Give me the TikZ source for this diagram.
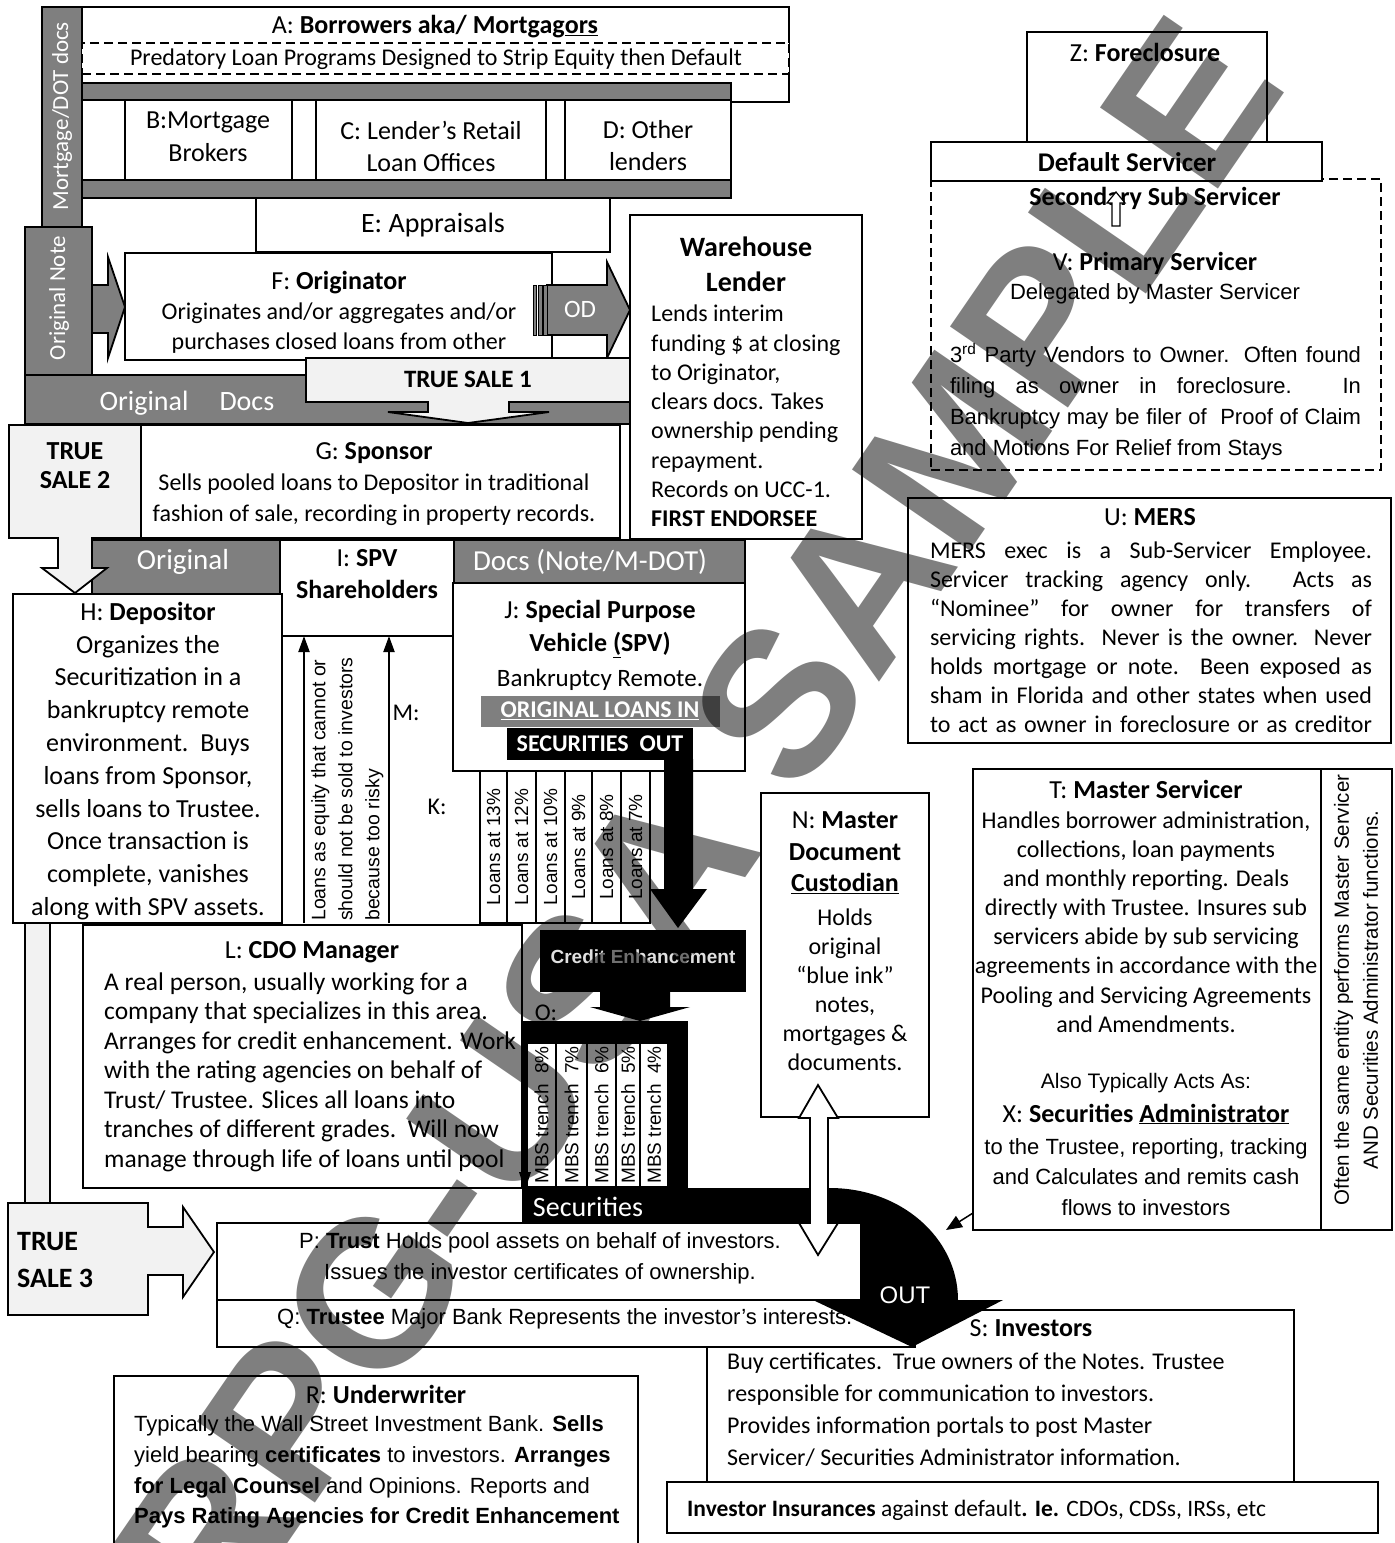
\documentclass[tikz,border=0pt]{standalone}
\usepackage{fontspec}
\setmainfont{Carlito}
\newfontfamily\arial{Liberation Sans}
\usetikzlibrary{arrows.meta}
\setlength{\parindent}{0pt}

\definecolor{bargray}{RGB}{127,127,127}
\definecolor{salegray}{RGB}{242,242,242}

\newcommand{\fsz}[2]{\fontsize{#1}{#2}\selectfont}

\tikzset{
  box/.style={draw, line width=1.8pt, fill=white, anchor=north west,
    inner sep=0pt, outer sep=0pt},
  bar/.style={box, fill=bargray},
  dashbox/.style={box, dash pattern=on 9pt off 5pt, line width=1.6pt},
  blockarrow/.style={draw, line width=1.8pt, line join=miter},
  txt/.style={inner sep=0pt, align=center, font=\fsz{24}{30}},
  wtxt/.style={txt, text=white},
  loancol/.style={draw, line width=1.4pt, fill=white, rotate=90, inner sep=0pt,
    font=\arial\fsz{19}{19}},
  arrowline/.style={-{Triangle[length=16pt, width=11pt]}, line width=2pt},
}

\begin{document}
\begin{tikzpicture}[x=1pt, y=-1pt]
\useasboundingbox (0,0) rectangle (1395,1543);

% borrowers and lenders
\node[bar, minimum width=40pt, minimum height=220pt] (dotbar) at (42,7) {};
\node[wtxt, rotate=90, font=\fsz{23}{23}] (dotbarT) at (62,116) {Mortgage/DOT docs};
\node[box, minimum width=707pt, minimum height=95pt] (borrowers) at (82,7) {};
\node[txt, font=\fsz{26}{30}] (borrowersT) at (435,27) {A: \textbf{Borrowers aka/ Mortgag\underline{ors}}};
\node[dashbox, minimum width=707pt, minimum height=31pt] (predatory) at (82,43) {};
\node[txt] (predatoryT) at (436,59) {Predatory Loan Programs Designed to Strip Equity then Default};
\node[bar, minimum width=649pt, minimum height=17pt] (topband) at (82,83) {};
\node[box, minimum width=649pt, minimum height=80pt] (lenders) at (82,100) {};
\node[bar, minimum width=649pt, minimum height=18pt] (lowband) at (82,180) {};
\node[box, minimum width=167pt, minimum height=80pt] (brokers) at (125,100) {};
\node[txt, font=\fsz{26}{33}] (brokersT) at (208,137) {B:Mortgage\\Brokers};
\node[box, minimum width=230pt, minimum height=80pt] (retail) at (316,100) {};
\node[txt, font=\fsz{26}{32}] (retailT) at (431,146) {C: Lender’s Retail\\Loan Offices};
\node[box, minimum width=166pt, minimum height=80pt] (otherlenders) at (565,100) {};
\node[txt, font=\fsz{26}{32}] (otherlendersT) at (648,146) {D: Other\\lenders};
\node[box, minimum width=354pt, minimum height=54pt] (appraisals) at (256,198) {};
\node[txt, font=\fsz{28}{30}] (appraisalsT) at (433,225) {E: Appraisals};

% originator
\node[bar, minimum width=67pt, minimum height=148pt] (notebar) at (25,227) {};
\node[wtxt, rotate=90, font=\fsz{23}{23}] (notebarT) at (59,298) {Original Note};
\draw[blockarrow, fill=bargray] (92,285) -- (108,285) -- (108,257) -- (125,307)
  -- (108,358) -- (108,333) -- (92,333) -- cycle;
\node[box, minimum width=427pt, minimum height=107pt] (originator) at (125,253) {};
\node[txt] (originatorT) at (339,312) {{\fsz{26}{30}F: \textbf{Originator}}\\Originates and/or aggregates and/or\\purchases closed loans from other};
\draw[blockarrow, fill=bargray] (547,285) -- (607,285) -- (607,262) -- (630,310)
  -- (607,358) -- (607,335) -- (547,335) -- cycle;
\draw[blockarrow, fill=bargray, line width=1pt] (533,285) rectangle (536,335);
\draw[blockarrow, fill=bargray, line width=1pt] (538,285) rectangle (542,335);
\draw[blockarrow, fill=bargray, line width=1pt] (543,285) rectangle (547,335);
\node[wtxt, font=\fsz{25}{25}] (odT) at (580,309) {OD};

% docs bar and true sale 1
\node[bar, minimum width=605pt, minimum height=49pt] (docsbar) at (25,375) {};
\node[wtxt, font=\fsz{28}{28}] (docsbarT) at (187,403) {Original\hspace{31pt}Docs};
\draw[blockarrow, fill=salegray] (306,358) -- (630,358) -- (630,402) -- (509,402)
  -- (509,412) -- (549,412) -- (468,423) -- (388,412) -- (428,412) -- (428,402)
  -- (306,402) -- cycle;
\node[txt, font=\bfseries\fsz{25}{25}] (sale1T) at (468,379) {TRUE SALE 1};

% warehouse lender
\node[box, minimum width=232pt, minimum height=324pt] (warehouse) at (630,215) {};
\node[txt, font=\bfseries\fsz{28}{35}] (warehouseT) at (746,264) {Warehouse\\Lender};
\node[txt, align=left, anchor=west, font=\fsz{24}{29.3}] (warehouseB) at (651,416) {Lends interim\\funding \$ at closing\\to Originator,\\clears docs. Takes\\ownership pending\\repayment.\\Records on UCC-1.\\\textbf{FIRST ENDORSEE}};

% sponsor
\node[box, minimum width=479pt, minimum height=113pt] (sponsor) at (141,425) {};
\node[txt, font=\fsz{24}{31}] (sponsorT) at (374,484) {{\fsz{26}{31}G: \textbf{Sponsor}}\\Sells pooled loans to Depositor in traditional\\fashion of sale, recording in property records.};

% depositor and spv
\node[bar, minimum width=188pt, minimum height=54pt] (origbar) at (92,540) {};
\node[wtxt, font=\fsz{29}{29}] (origbarT) at (183,562) {Original};
\node[bar, minimum width=291pt, minimum height=43pt] (notedocsbar) at (454,540) {};
\node[wtxt, font=\fsz{29}{29}] (notedocsbarT) at (590,562) {Docs (Note/M-DOT)};
\node[box, minimum width=174pt, minimum height=96pt] (shareholders) at (280,540) {};
\node[txt, font=\fsz{26}{32}] (shareholdersT) at (367,574) {I: \textbf{SPV}\\\textbf{Shareholders}};
\node[box, minimum width=269pt, minimum height=329pt] (depositor) at (13,594) {};
\node[txt, font=\fsz{26}{32.8}] (depositorT) at (148,761) {H: \textbf{Depositor}\\Organizes the\\Securitization in a\\bankruptcy remote\\environment.\ \ Buys\\loans from Sponsor,\\sells loans to Trustee.\\Once transaction is\\complete, vanishes\\along with SPV assets.};
\draw[blockarrow, fill=salegray] (9,425) -- (141,425) -- (141,538) -- (92,538)
  -- (92,568) -- (107,568) -- (75,593) -- (42,568) -- (58,568) -- (58,538)
  -- (9,538) -- cycle;
\node[txt, font=\bfseries\fsz{26}{29}] (sale2T) at (75,466) {TRUE\\SALE 2};

\node[box, minimum width=292pt, minimum height=188pt] (spv) at (453,583) {};
\node[txt, font=\fsz{26}{33}] (spvT) at (600,629) {J: \textbf{Special Purpose}\\\textbf{Vehicle \underline{(}SPV)}};
\node[txt, font=\fsz{25}{25}] (spvB) at (600,680) {Bankruptcy Remote.};
\node[fill=bargray, minimum width=239pt, minimum height=31pt, inner sep=0pt, anchor=north west] (loansin) at (481,696) {};
\node[wtxt, font=\bfseries\fsz{24}{24}] (loansinT) at (600,711) {\underline{ORIGINAL LOANS IN}};
\node[fill=black, minimum width=186pt, minimum height=32pt, inner sep=0pt, anchor=north west] (secout) at (507,728) {};
\node[wtxt, font=\bfseries\fsz{24}{24}] (secoutT) at (600,744) {SECURITIES\ \ OUT};
\fill (664,759) -- (693,759) -- (693,889) -- (707,889) -- (678,928) -- (650,889)
  -- (664,889) -- cycle;

% loans kept as equity
\node[inner sep=0pt, rotate=90, align=left, anchor=north west, font=\arial\fsz{19.5}{27}] (equityT) at (311,921) {Loans as equity that cannot or\\should not be sold to investors\\because too risky};
\coordinate (eqleft) at (304,923);
\coordinate (eqright) at (389,923);
\draw[arrowline] (eqleft) -- (eqleft |- shareholders.south);
\draw[arrowline] (eqright) -- (eqright |- shareholders.south);
\node[txt] (mlabel) at (406,713) {M:};
\node[txt] (klabel) at (437,807) {K:};

% loan pools
\node[loancol, minimum width=152pt, minimum height=27pt] (loan13) at (493.5,847) {Loans at 13\%};
\node[loancol, minimum width=152pt, minimum height=29pt] (loan12) at (521.5,847) {Loans at 12\%};
\node[loancol, minimum width=152pt, minimum height=29pt] (loan10) at (550.5,847) {Loans at 10\%};
\node[loancol, minimum width=152pt, minimum height=27pt] (loan9) at (578.5,847) {Loans at 9\%};
\node[loancol, minimum width=152pt, minimum height=29pt] (loan8) at (606.5,847) {Loans at 8\%};
\node[loancol, minimum width=152pt, minimum height=29pt] (loan7) at (635.5,847) {Loans at 7\%};

% cdo manager
\node[box, minimum width=25pt, minimum height=280pt, fill=salegray] (sale3stem) at (25,923) {};
\node[box, minimum width=439pt, minimum height=263pt] (cdo) at (83,925) {};
\node[txt, font=\fsz{26}{26}] (cdoT) at (312,952) {L: \textbf{CDO Manager}};
\node[txt, align=left, anchor=west, font=\fsz{25.5}{29.5}] (cdoB) at (104,1072) {A real person, usually working for a\\company that specializes in this area.\\Arranges for credit enhancement. Work\\with the rating agencies on behalf of\\Trust/ Trustee. Slices all loans into\\tranches of different grades.\ \ Will now\\manage through life of loans until pool};

% credit enhancement and tranches
\node[fill=black, minimum width=206pt, minimum height=62pt, inner sep=0pt, anchor=north west] (credit) at (540,930) {};
\node[inner sep=0pt, text=white!88!black, font=\arial\bfseries\fsz{19}{19}] (creditT) at (643,957) {Credit Enhancement};
\fill (600,992) -- (670,992) -- (670,1007) -- (690,1007) -- (640,1021) -- (590,1007)
  -- (600,1007) -- cycle;
\node[txt] (olabel) at (546,1013) {O:};
\node[fill=black, minimum width=166pt, minimum height=167pt, inner sep=0pt, anchor=north west] (tranches) at (522,1021) {};
\node[loancol, minimum width=144pt, minimum height=29pt] (mbs8) at (541.5,1115) {MBS trench\ \ 8\%};
\node[loancol, minimum width=144pt, minimum height=31pt] (mbs7) at (571.5,1115) {MBS trench\ \ 7\%};
\node[loancol, minimum width=144pt, minimum height=29pt] (mbs6) at (601.5,1115) {MBS trench\ \ 6\%};
\node[loancol, minimum width=144pt, minimum height=24pt] (mbs5) at (628,1115) {MBS trench\ \ 5\%};
\node[loancol, minimum width=144pt, minimum height=28pt] (mbs4) at (654,1115) {MBS trench\ \ 4\%};
\fill (519,1172) -- (531,1172) -- (525,1190) -- cycle;

% custodian
\node[box, minimum width=168pt, minimum height=324pt] (custodian) at (761,793) {};
\node[txt, font=\fsz{26}{31.5}] (custodianT) at (845,853) {N: \textbf{Master}\\\textbf{Document}\\\underline{\textbf{Custodian}}};
\node[txt, font=\fsz{24}{29}] (custodianB) at (845,990) {Holds\\original\\“blue ink”\\notes,\\mortgages \&\\documents.};

% investors, trust, trustee
\node[box, minimum width=587pt, minimum height=172pt] (investors) at (707,1310) {};
\node[txt, font=\fsz{26}{26}] (investorsT) at (1031,1328) {S: \textbf{Investors}};
\node[txt, align=left, anchor=west, font=\fsz{24}{32}] (investorsB) at (727,1410) {Buy certificates.\ \ True owners of the Notes. Trustee\\responsible for communication to investors.\\Provides information portals to post Master\\Servicer/ Securities Administrator information.};
\node[box, minimum width=711pt, minimum height=51pt] (insurance) at (667,1482) {};
\node[txt, anchor=west, font=\fsz{23.5}{23.5}] (insuranceT) at (687,1510) {\textbf{Investor Insurances} against default\textbf{. Ie.} CDOs, CDSs, IRSs, etc};
\node[box, minimum width=644pt, minimum height=77pt] (trust) at (217,1223) {};
\node[txt, font=\arial\fsz{22}{31}] (trustT) at (540,1258) {P: \textbf{Trust} Holds pool assets on behalf of investors.\\Issues the investor certificates of ownership.};
\node[box, minimum width=698pt, minimum height=47pt] (trustee) at (217,1300) {};
\node[txt, anchor=west, font=\arial\fsz{22}{22}] (trusteeT) at (277,1319) {Q: \textbf{Trustee} Major Bank Represents the investor’s interests.};

% securities out
\fill (522,1188) -- (830,1188) .. controls (901,1188) and (958,1238) .. (958,1300)
  -- (1003,1300) -- (912,1347) -- (813,1300) -- (860,1300) -- (860,1223)
  -- (522,1223) -- cycle;
\node[wtxt, font=\fsz{28}{28}] (securitiesT) at (588,1207) {Securities};
\node[wtxt, font=\arial\fsz{24}{24}] (outT) at (905,1295) {OUT};
\draw[blockarrow, fill=white] (818,1085) -- (838,1118) -- (828,1118) -- (828,1223)
  -- (838,1223) -- (818,1255) -- (799,1223) -- (810,1223) -- (810,1118)
  -- (799,1118) -- cycle;

% underwriter
\node[box, minimum width=524pt, minimum height=200pt] (underwriter) at (114,1376) {};
\node[txt, font=\fsz{26}{26}] (underwriterT) at (386,1394) {R: \textbf{Underwriter}};
\node[txt, align=left, anchor=west, font=\arial\fsz{22}{30.7}] (underwriterB) at (134,1472) {Typically the Wall Street Investment Bank. \textbf{Sells}\\yield bearing \textbf{certificates} to investors. \textbf{Arranges}\\\textbf{for Legal Counsel} and Opinions. Reports and\\\textbf{Pays Rating Agencies for Credit Enhancement}};

% true sale 3
\draw[blockarrow, fill=salegray] (8,1203) -- (148,1203) -- (148,1227) -- (183,1227)
  -- (183,1207) -- (214,1252) -- (183,1297) -- (183,1275) -- (148,1275)
  -- (148,1315) -- (8,1315) -- cycle;
\node[txt, align=left, anchor=west, font=\bfseries\fsz{28}{36}] (sale3T) at (17,1260) {TRUE\\SALE 3};

% servicers
\node[dashbox, minimum width=450pt, minimum height=291pt] (subservicer) at (931,179) {};
\node[box, minimum width=240pt, minimum height=110pt] (foreclosure) at (1027,32) {};
\node[txt, font=\fsz{26}{26}] (foreclosureT) at (1145,52) {Z: \textbf{Foreclosure}};
\node[box, minimum width=391pt, minimum height=39pt] (defaultserv) at (931,142) {};
\node[txt, font=\bfseries\fsz{27}{27}] (defaultservT) at (1127,162) {Default Servicer};
\node[txt, font=\bfseries\fsz{26}{26}] (secondaryT) at (1155,198) {Secondary Sub Servicer};
\draw[line width=1.2pt, fill=white] (1116,192) -- (1125,203) -- (1120,203) -- (1120,226)
  -- (1112,226) -- (1112,203) -- (1107,203) -- cycle;
\node[txt, font=\fsz{26}{26}] (primaryT) at (1155,263) {V: \textbf{Primary Servicer}};
\node[txt, font=\arial\fsz{22}{22}] (primaryB) at (1155,294) {Delegated by Master Servicer};
\node[txt, text width=411pt, align=justify, font=\arial\fsz{22}{31}] (vendorsB) at (1155.5,401.5) {3\textsuperscript{rd} Party Vendors to Owner. Often found\linebreak filing as owner in foreclosure. In\linebreak Bankruptcy may be filer of\ \ Proof of Claim\linebreak and Motions For Relief from Stays};

\node[box, minimum width=483pt, minimum height=245pt] (mers) at (908,498) {};
\node[txt, font=\fsz{26}{26}] (mersT) at (1150,517) {U: \textbf{MERS}};
\node[txt, text width=442pt, align=justify, font=\fsz{24}{29}] (mersB) at (1151,637) {\parfillskip=0pt\relax MERS exec is a Sub-Servicer Employee.\linebreak Servicer tracking agency only. Acts as\linebreak “Nominee” for owner for transfers of\linebreak servicing rights.\ \ Never is the owner. Never\linebreak holds mortgage or note. Been exposed as\linebreak sham in Florida and other states when used\linebreak to act as owner in foreclosure or as creditor\par};

\node[box, minimum width=419pt, minimum height=461pt] (master) at (973,769) {};
\draw[line width=1.8pt] ([xshift=348pt]master.north west) -- ([xshift=348pt]master.south west);
\node[txt, font=\fsz{26}{26}] (masterT) at (1146,789) {T: \textbf{Master Servicer}};
\node[txt, font=\fsz{24}{29.1}] (masterB) at (1146,922) {Handles borrower administration,\\collections, loan payments\\and monthly reporting. Deals\\directly with Trustee. Insures sub\\servicers abide by sub servicing\\agreements in accordance with the\\Pooling and Servicing Agreements\\and Amendments.};
\node[txt, font=\arial\fsz{21}{21}] (alsoT) at (1146,1083) {Also Typically Acts As:};
\node[txt, font=\fsz{26}{26}] (adminT) at (1146,1114) {X: \textbf{Securities \underline{Administrator}}};
\node[txt, font=\arial\fsz{22}{30.5}] (adminB) at (1146,1177) {to the Trustee, reporting, tracking\\and Calculates and remits cash\\flows to investors};
\node[txt, rotate=90, font=\arial\fsz{20.5}{29}] (sameT) at (1356,990) {Often the same entity performs Master Servicer\\AND Securities Administrator functions.};
\coordinate (outedge) at (946,1230);
\draw[-{Triangle[length=16pt, width=13pt]}, line width=1.5pt] ([yshift=17pt]master.south west) -- (outedge);

% watermark
\node[inner sep=0pt, rotate=55.5, text opacity=0.5, font=\arial\bfseries\fsz{208}{208}] (watermark) at (697,822) {RPG-USA SAMPLE};
\end{tikzpicture}
\end{document}
